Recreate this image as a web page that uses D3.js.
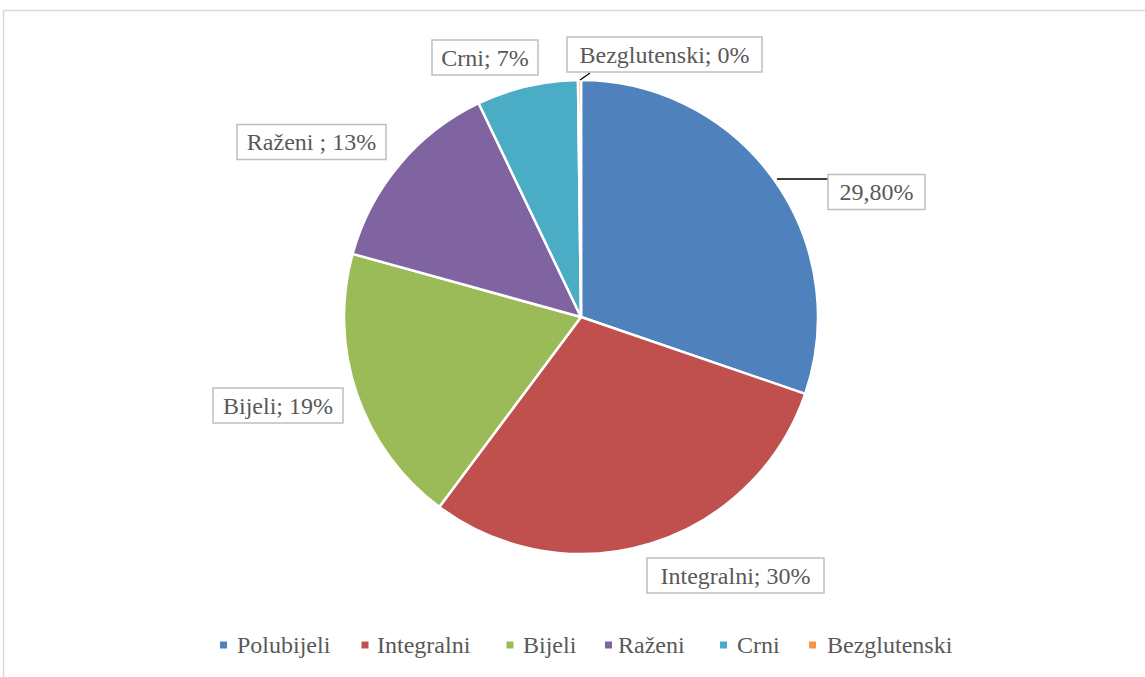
<!DOCTYPE html>
<html><head><meta charset="utf-8">
<script src="https://cdn.jsdelivr.net/npm/d3@7"></script>
<style>body{margin:0;background:#fff}svg{display:block}</style>
</head><body>
<svg id="c" width="1145" height="677"></svg>
<script>
const categories = ["Polubijeli","Integralni","Bijeli","Raženi","Crni","Bezglutenski"];
const values = [29.8, 29.5, 18.8, 13.4, 6.8, 0.2];
const labels = ["29,80%","Integralni; 30%","Bijeli; 19%","Raženi ; 13%","Crni; 7%","Bezglutenski; 0%"];
const colors = ["#4F81BD","#C0504D","#9BBB59","#8064A2","#4BACC6","#F79646"];

const W = 1145, H = 677;
const svg = d3.select("#c");
const FONT = "'Liberation Serif', serif";
const TXT = "#595959";
const FS = 24;

// chart frame
svg.append("rect").attr("x",3.5).attr("y",10.5).attr("width",W).attr("height",H)
  .attr("fill","#fff").attr("stroke","#d9d9d9").attr("stroke-width",1.5);

const cx = 581, cy = 317, R = 237;
const pie = d3.pie().sort(null).value(d=>d)(values);
const arc = d3.arc().innerRadius(0).outerRadius(R);
const g = svg.append("g").attr("transform",`translate(${cx},${cy})`);
g.selectAll("path").data(pie).join("path")
  .attr("d",arc).attr("fill",(d,i)=>colors[i])
  .attr("stroke","#fff").attr("stroke-width",2.5).attr("stroke-linejoin","round");

// label boxes (centers)
const labelCenters = [[876.5,192],[735.5,575.5],[278,405.5],[311.5,142],[485,57.5],[664.5,54.5]];
const boxW = [97,177,130,149,106,195];
const boxH = 35;
// leader lines
const leaders = [[[777,179],[828,179]], null, null, null, null, [[580,80],[590,73]]];
leaders.forEach(l=>{ if(l) svg.append("path").attr("d",d3.line()(l)).attr("stroke","#000").attr("stroke-width",1.3).attr("fill","none"); });

labels.forEach((t,i)=>{
  const [x,y] = labelCenters[i];
  svg.append("rect").attr("x",x-boxW[i]/2).attr("y",y-boxH/2).attr("width",boxW[i]).attr("height",boxH)
    .attr("fill","#fff").attr("stroke","#bfbfbf").attr("stroke-width",1.5);
  svg.append("text").attr("x",x).attr("y",y).attr("dy","0.35em").attr("text-anchor","middle")
    .attr("font-family",FONT).attr("font-size",FS).attr("fill",TXT).text(t);
});

// legend
const legendMarkX = [223.5,365,510,608.5,723.5,812.5];
const legendTextX = [237,377,523,618,737,827];
const ly = 645;
const lg = svg.append("g");
categories.forEach((c,i)=>{
  lg.append("rect").attr("x",legendMarkX[i]-3.5).attr("y",ly-3.5).attr("width",7).attr("height",7).attr("fill",colors[i]);
  lg.append("text").attr("x",legendTextX[i]).attr("y",ly).attr("dy","0.35em")
    .attr("font-family",FONT).attr("font-size",FS).attr("fill",TXT).text(c);
});
</script>
</body></html>
